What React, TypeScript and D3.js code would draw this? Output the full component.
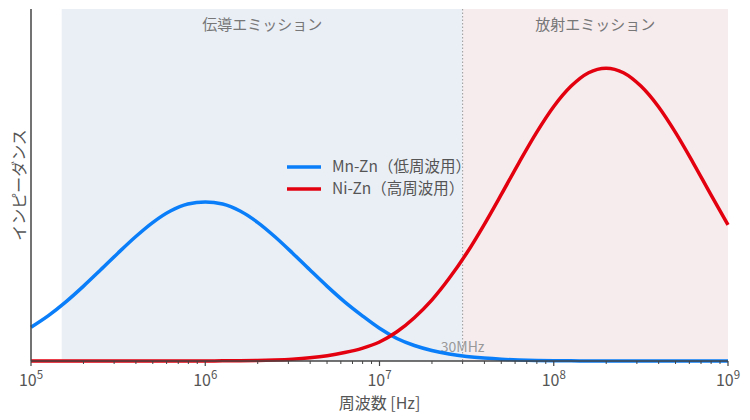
import React from "react";
import * as d3 from "d3";

const freqExp = [5.0, 5.1, 5.2, 5.3, 5.4, 5.5, 5.6, 5.7, 5.8, 5.9, 6.0, 6.1, 6.2, 6.3, 6.4, 6.5, 6.6, 6.7, 6.8, 6.9, 7.0, 7.1, 7.2, 7.3, 7.4, 7.5, 7.6, 7.7, 7.8, 7.9, 8.0, 8.1, 8.2, 8.3, 8.4, 8.5, 8.6, 8.7, 8.8, 8.9, 9.0];
const mnZn = [0.096, 0.129, 0.168, 0.212, 0.259, 0.307, 0.353, 0.394, 0.426, 0.446, 0.452, 0.446, 0.426, 0.394, 0.353, 0.307, 0.259, 0.212, 0.168, 0.129, 0.093, 0.064, 0.044, 0.03, 0.02, 0.013, 0.0082, 0.0049, 0.0029, 0.0016, 0.0009, 0.0005, 0.0002, 0.0001, 0, 0, 0, 0, 0, 0, 0];
const niZn = [0, 0, 0, 0, 0, 0, 0, 0, 0, 0.0001, 0.0002, 0.0004, 0.0008, 0.0016, 0.003, 0.0053, 0.0091, 0.015, 0.024, 0.036, 0.054, 0.083, 0.123, 0.173, 0.235, 0.306, 0.387, 0.474, 0.563, 0.648, 0.723, 0.781, 0.819, 0.832, 0.819, 0.781, 0.723, 0.648, 0.563, 0.474, 0.387];
const seriesNames = ["Mn-Zn（低周波用）", "Ni-Zn（高周波用）"];
const seriesColors = ["#0a7ef8", "#e3000f"];
const decadeExps = [5, 6, 7, 8, 9];
const regionEdges = [1.5e5, 3e7, 1e9];
const regionNames = ["伝導エミッション", "放射エミッション"];

const W = 750, H = 420;
const M = { left: 31, right: 22, top: 9, bottom: 59 };
const FONT = "'Noto Sans CJK JP', 'Noto Sans', sans-serif";

export default function App() {
  const x = d3.scaleLog().domain([1e5, 1e9]).range([M.left, W - M.right]);
  const y = d3.scaleLinear().domain([0, 1]).range([H - M.bottom, M.top]);
  const y0 = y(0);
  const line = d3
    .line<number>()
    .x((_, i) => x(Math.pow(10, freqExp[i])))
    .y((d) => y(d))
    .curve(d3.curveMonotoneX);
  const minor: number[] = [];
  for (const e of decadeExps.slice(0, -1)) {
    for (let k = 2; k <= 9; k++) minor.push(k * Math.pow(10, e));
  }
  const series = [mnZn, niZn];
  const rx0 = x(regionEdges[0]), rx1 = x(regionEdges[1]), rx2 = x(regionEdges[2]);
  return (
    <svg width={W} height={H} style={{ position: "absolute", left: 0, top: 0 }} fontFamily={FONT}>
      <rect x={0} y={0} width={W} height={H} fill="#fff" />
      <rect x={rx0} y={M.top} width={rx1 - rx0} height={y0 - M.top} fill="#eaeff6" />
      <rect x={rx1} y={M.top} width={rx2 - rx1} height={y0 - M.top} fill="#f6ecee" />
      <line x1={rx1} x2={rx1} y1={M.top} y2={y0} stroke="#999" strokeWidth={1} strokeDasharray="1.5,2" />
      <text x={(rx0 + rx1) / 2} y={30} textAnchor="middle" fontSize={15} fill="#777">{regionNames[0]}</text>
      <text x={(rx1 + rx2) / 2} y={30} textAnchor="middle" fontSize={15} fill="#777">{regionNames[1]}</text>
      <text x={rx1} y={352} textAnchor="middle" fontSize={14} fill="#999">30MHz</text>
      {series.map((s, i) => (
        <path key={i} d={line(s) || ""} fill="none" stroke={seriesColors[i]} strokeWidth={3.5} strokeLinejoin="round" />
      ))}
      <line x1={M.left} x2={M.left} y1={M.top} y2={y0} stroke="#444" strokeWidth={1.5} />
      <line x1={M.left} x2={W - M.right} y1={y0} y2={y0} stroke="#444" strokeWidth={1.5} />
      {minor.map((v, i) => (
        <line key={i} x1={x(v)} x2={x(v)} y1={y0} y2={y0 + 3} stroke="#444" strokeWidth={1} />
      ))}
      {decadeExps.map((e) => (
        <g key={e}>
          <line x1={x(Math.pow(10, e))} x2={x(Math.pow(10, e))} y1={y0} y2={y0 + 5} stroke="#444" strokeWidth={1.2} />
          <text x={x(Math.pow(10, e))} y={386} textAnchor="middle" fontSize={16} fill="#555">
            10<tspan dy={-7} fontSize={11.5}>{e}</tspan>
          </text>
        </g>
      ))}
      <text x={(M.left + W - M.right) / 2} y={409} textAnchor="middle" fontSize={16} fill="#555">周波数 [Hz]</text>
      <text transform={`translate(25,${(M.top + y0) / 2}) rotate(-90)`} textAnchor="middle" fontSize={16} fill="#555">インピーダンス</text>
      {seriesNames.map((n, i) => (
        <g key={n}>
          <line x1={287} x2={321} y1={167 + i * 22} y2={167 + i * 22} stroke={seriesColors[i]} strokeWidth={3.5} />
          <text x={332} y={172 + i * 22} fontSize={15.5} fill="#555">{n}</text>
        </g>
      ))}
    </svg>
  );
}
